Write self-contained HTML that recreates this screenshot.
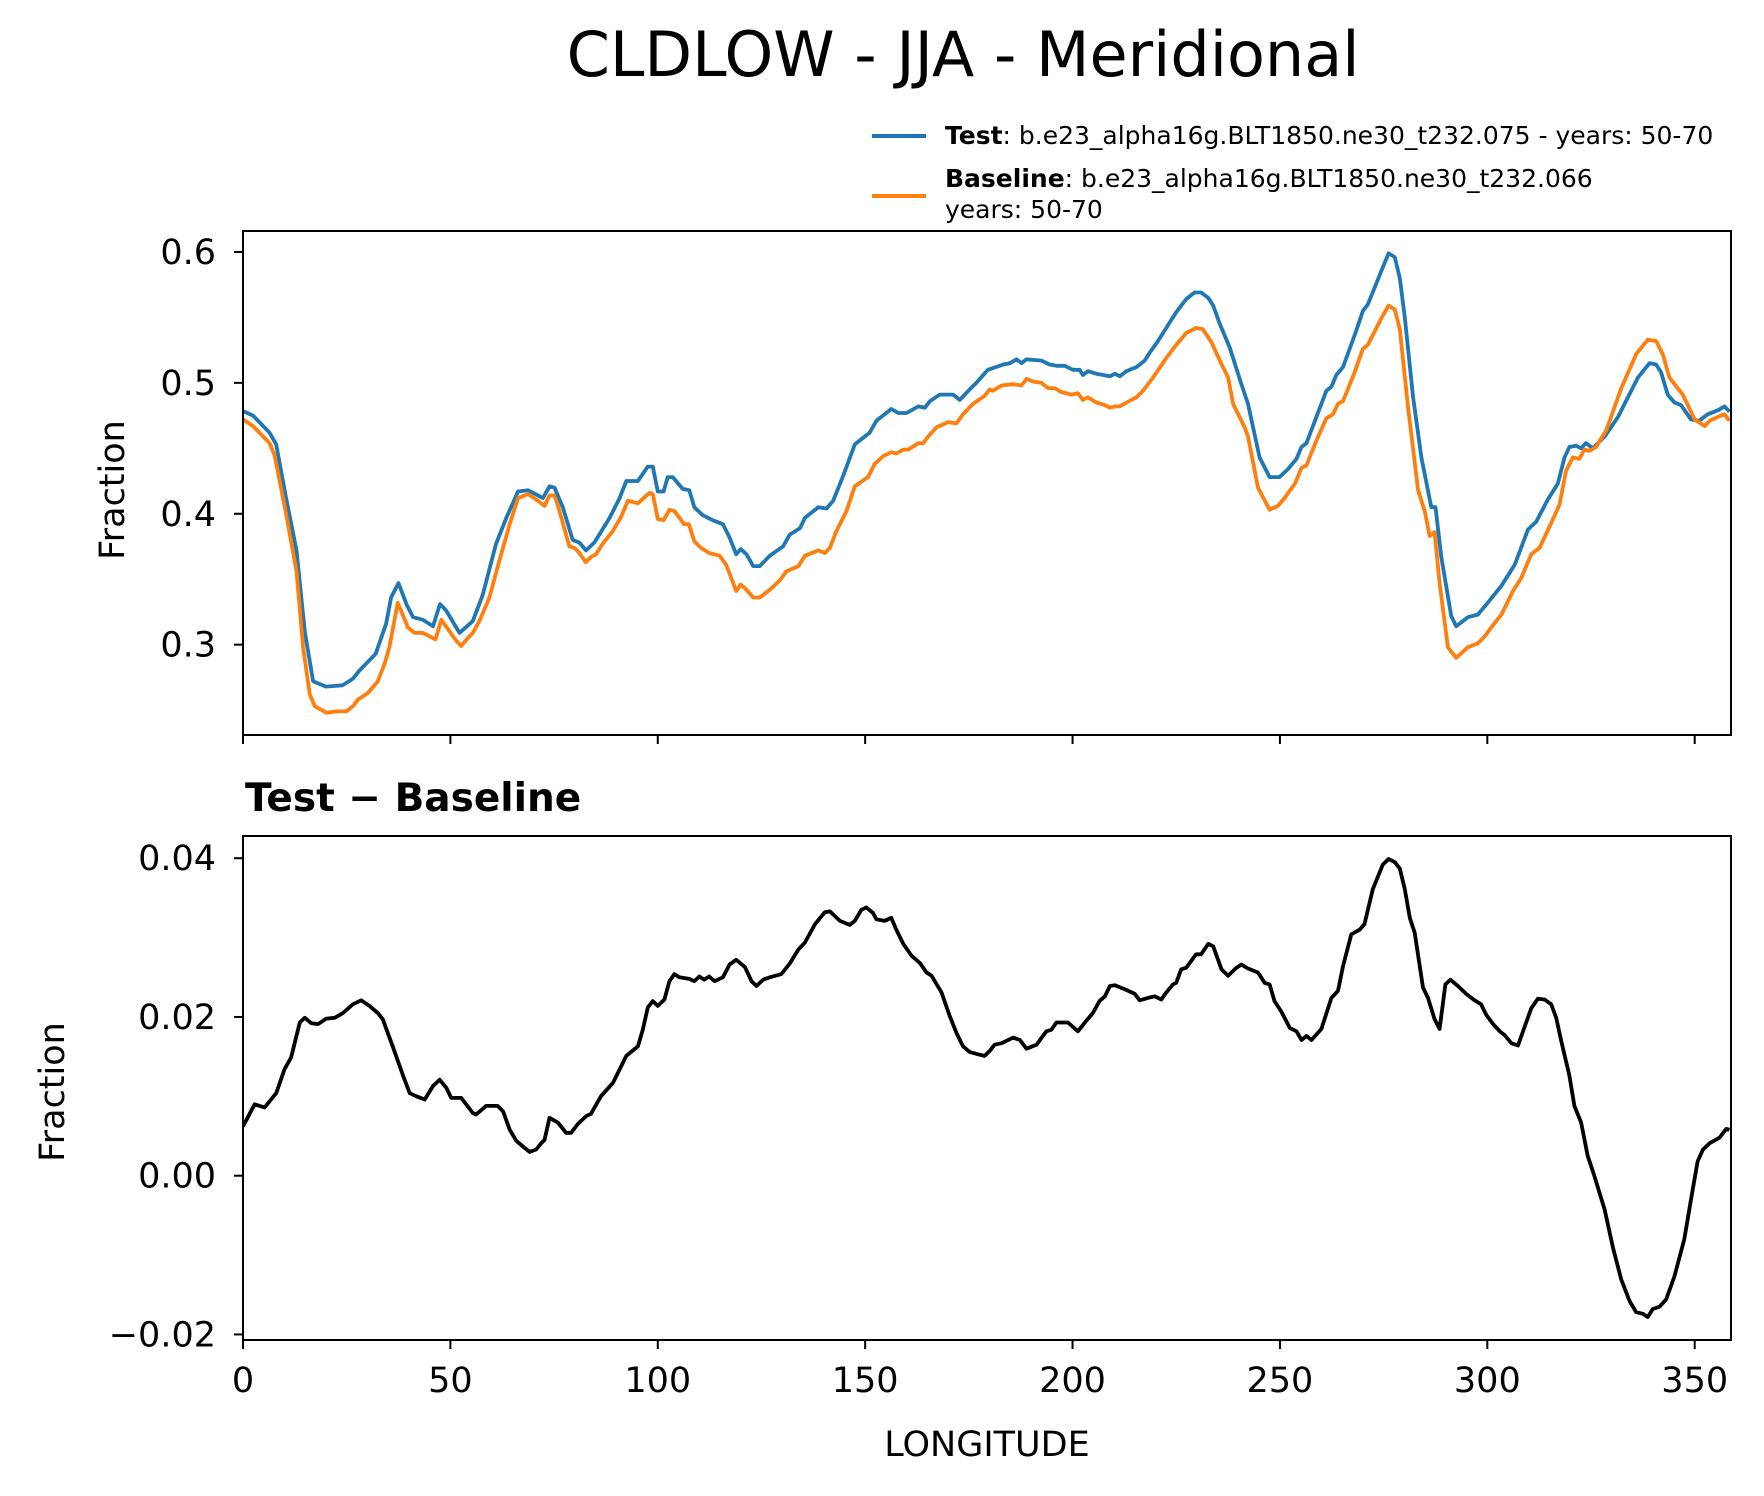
<!DOCTYPE html>
<html><head><meta charset="utf-8">
<style>
html,body{margin:0;padding:0;background:#fff;}
svg{display:block;font-family:"DejaVu Sans","Liberation Sans",sans-serif;}
</style></head>
<body>
<svg id="chart" width="1764" height="1496" viewBox="0 0 1764 1496" xmlns="http://www.w3.org/2000/svg">
<rect width="1764" height="1496" fill="#fff"/>
<text x="963" y="76" font-size="62" text-anchor="middle" fill="#000">CLDLOW - JJA - Meridional</text>
<g>
  <line x1="872" y1="136" x2="926" y2="136" stroke="#1f77b4" stroke-width="4"/>
  <text x="945" y="144" font-size="25" fill="#000"><tspan font-weight="bold">Test</tspan>: b.e23_alpha16g.BLT1850.ne30_t232.075 - years: 50-70</text>
  <line x1="872" y1="196" x2="926" y2="196" stroke="#ff7f0e" stroke-width="4"/>
  <text x="945" y="187" font-size="25" fill="#000"><tspan font-weight="bold">Baseline</tspan>: b.e23_alpha16g.BLT1850.ne30_t232.066</text>
  <text x="945" y="218" font-size="25" fill="#000">years: 50-70</text>
</g>
<g id="top"></g>
<g id="bot"></g>
<text transform="translate(124,490) rotate(-90)" font-size="35" text-anchor="middle">Fraction</text>
<text transform="translate(64,1092) rotate(-90)" font-size="35" text-anchor="middle">Fraction</text>
<text x="245" y="811" font-size="39" font-weight="bold">Test − Baseline</text>
<text x="987" y="1456" font-size="35" text-anchor="middle">LONGITUDE</text>
</svg>
<script>
const lonTest=[0,2.4,6.4,8,10.4,12.9,14.9,16.9,20,24,26.5,28,32,34.5,35.7,37.5,39.4,41,43.4,45.8,47.5,49,52.2,55.4,57.8,61,63.5,66.3,68.7,72.3,73.9,75.1,77.1,79.5,81.1,82.7,84.7,88.4,90.8,92.4,95.2,97.6,98.8,100,101.4,102.4,103.6,106,107.6,108.8,110.8,113.3,115.7,117.3,118.9,120,121.4,123,124.6,127,130.2,131.8,134.3,135.5,138.7,140.7,142.3,144.7,147.5,151.1,152.7,156.3,158,160,162.8,164.4,165.6,168,171.2,172.8,175.2,176.8,179.6,183.3,184.9,186.5,187.7,188.9,192.5,194.5,196.1,198.1,200.1,201.7,202.5,203.7,205.7,209,210.2,211.4,213,215.4,217.4,218.6,220.6,222.6,225,227.4,229.4,231,232.7,233.9,235.5,237.9,240.7,242.3,245.1,247.5,249.9,251.9,254,255.2,256.4,258.8,261.2,262.4,263.6,265.2,268.4,270,271.2,274.4,276.2,277.7,278.9,280.1,282.1,284.1,286.5,287.5,288.9,291.3,292.5,295.3,297.7,300.1,303.4,306.6,309.8,311.8,314.6,317,318.6,319.8,321.4,322.6,323.8,325.4,328.3,331.5,336.3,339.1,340.7,341.9,343.5,345.1,346.7,349.1,351.1,353.1,355.6,357.2,358.4];
const testVals=[0.4785,0.475,0.462,0.453,0.412,0.372,0.310,0.272,0.268,0.269,0.274,0.280,0.293,0.316,0.336,0.347,0.331,0.321,0.319,0.314,0.331,0.326,0.309,0.318,0.338,0.377,0.397,0.417,0.418,0.412,0.421,0.420,0.405,0.380,0.378,0.372,0.378,0.397,0.412,0.425,0.425,0.436,0.436,0.417,0.417,0.428,0.428,0.419,0.418,0.405,0.399,0.395,0.392,0.382,0.369,0.373,0.369,0.360,0.360,0.368,0.375,0.384,0.389,0.397,0.405,0.404,0.410,0.429,0.453,0.462,0.471,0.480,0.477,0.477,0.482,0.481,0.486,0.491,0.491,0.487,0.495,0.500,0.510,0.514,0.515,0.518,0.515,0.518,0.517,0.514,0.513,0.513,0.510,0.510,0.506,0.509,0.507,0.505,0.507,0.505,0.509,0.512,0.517,0.523,0.532,0.542,0.554,0.564,0.569,0.569,0.565,0.559,0.545,0.527,0.499,0.484,0.443,0.428,0.428,0.434,0.442,0.451,0.454,0.474,0.494,0.497,0.506,0.512,0.540,0.555,0.560,0.585,0.599,0.596,0.580,0.550,0.489,0.443,0.405,0.405,0.367,0.322,0.314,0.321,0.323,0.332,0.345,0.361,0.388,0.394,0.411,0.423,0.443,0.451,0.452,0.450,0.454,0.450,0.459,0.474,0.504,0.515,0.514,0.508,0.491,0.485,0.483,0.472,0.471,0.476,0.479,0.482,0.478];
const lonBase=[0,2.4,6.4,7.6,10.4,12.9,14.5,16.1,17.3,20.1,22.5,24.9,26.5,27.7,30.1,32.5,34.1,35.3,37.3,39.8,41.4,43.4,46.4,47.8,49.4,51.4,52.6,54.2,55.4,57,59.4,61.8,64.3,66.3,68.7,71.1,72.7,73.9,75.1,76.3,78.7,79.9,81.1,82.6,83.9,85.1,86.7,89.2,91.2,92.8,95.2,98,98.8,100,101.4,102.8,104,106.4,107.5,108.8,110.4,112.4,114.9,116.5,118.9,120,121.4,123,124.6,127,129.4,131,133.9,135.5,138.7,140.3,141.5,143.1,145.5,147.5,150.7,152.3,154.3,156.3,157.5,159.2,160.4,162.8,164,165.2,167.2,170,172,173.6,176,178.8,180,180.8,182.9,185.7,187.7,188.9,190.5,192.5,194.1,195.7,197.3,199.7,201.3,202.5,203.7,205.7,207.8,209,210.2,211.4,213,215.4,217,219.4,222.6,225,227.4,229.8,231.4,233.5,235.5,237.5,238.7,241.5,242.3,244.7,247.5,249.5,251.1,253.6,255.2,256.4,258.8,261.2,262.8,264,265.2,268,270,271.2,274.4,276.2,277.7,278.9,280.9,283.3,284.9,286.1,287.3,288.5,290.5,292.5,295.3,297.7,299.3,300.9,303.4,306.2,308.2,310.6,312.6,315.4,317.4,319,320.6,322.2,323.4,324.6,326.2,328.7,332.3,335.9,338.7,340.7,342.3,343.9,347.1,350,352.4,353.6,355.6,357.2,358.4];
const baseVals=[0.472,0.467,0.454,0.445,0.400,0.356,0.298,0.262,0.253,0.248,0.249,0.249,0.253,0.258,0.263,0.272,0.285,0.298,0.332,0.313,0.309,0.309,0.304,0.319,0.312,0.303,0.299,0.305,0.309,0.318,0.336,0.364,0.392,0.412,0.415,0.410,0.406,0.414,0.414,0.402,0.375,0.374,0.370,0.363,0.367,0.369,0.377,0.387,0.398,0.410,0.408,0.416,0.415,0.396,0.395,0.403,0.402,0.392,0.392,0.379,0.374,0.370,0.368,0.361,0.341,0.346,0.342,0.336,0.336,0.342,0.349,0.356,0.360,0.368,0.372,0.370,0.374,0.387,0.402,0.421,0.428,0.438,0.444,0.447,0.446,0.449,0.449,0.454,0.454,0.459,0.466,0.470,0.469,0.476,0.484,0.490,0.495,0.494,0.498,0.499,0.498,0.503,0.501,0.500,0.496,0.496,0.493,0.491,0.492,0.487,0.489,0.485,0.483,0.481,0.482,0.482,0.485,0.489,0.494,0.504,0.519,0.529,0.538,0.542,0.541,0.531,0.517,0.504,0.484,0.466,0.459,0.420,0.403,0.406,0.412,0.423,0.435,0.437,0.456,0.473,0.476,0.484,0.486,0.508,0.526,0.529,0.549,0.559,0.556,0.541,0.481,0.418,0.402,0.383,0.386,0.347,0.298,0.290,0.298,0.301,0.306,0.313,0.323,0.341,0.351,0.369,0.374,0.393,0.407,0.433,0.443,0.442,0.449,0.448,0.451,0.464,0.496,0.522,0.533,0.532,0.522,0.504,0.491,0.472,0.467,0.471,0.474,0.476,0.471];
const lonDiff=[0,2.8,5.2,8,10,11.6,13.7,14.9,16.5,18.1,20.1,22.1,24.1,26.5,28.5,30.5,32.5,33.7,36.1,38.6,40.2,41.8,43.8,45.8,47.4,49,50.2,52.6,55.4,56.2,58.6,61.4,62.7,64.3,65.9,67.9,69.1,70.7,71.9,72.7,73.9,75.9,77.9,79.1,80.7,82.7,83.9,86.3,89.2,92.4,95.2,96.4,97.6,98.8,100,101.6,102.8,104,105.2,107.6,108.8,110,111.2,112.4,113.7,115.7,117.3,118.9,121,122.6,123.8,125.4,127,129.8,131.9,133.9,135.5,137.9,140.3,141.5,143.9,146.3,147.5,149.1,150.3,151.9,152.7,154.7,156.3,157.5,159.2,161.2,163.2,164.8,166,168.4,170.4,172,173.6,175.2,177.2,178.8,180,181.2,182.9,185.7,187.3,188.9,191.3,193.7,194.9,196.1,198.9,201.3,203.3,204.9,206.5,207.8,209,210.2,213,215,216.2,218.2,219.8,221.4,222.6,224.2,225,226.2,227.4,229.8,231,232.7,233.9,235.9,237.5,239.5,240.7,242.3,244.7,246.3,247.5,248.7,250.3,252.4,254,255.2,256.4,257.6,260,262.4,264,265.2,267.2,269.2,270.4,272.4,274.8,276.2,277.7,278.9,280.1,281.3,282.5,284.5,285.7,287.3,288.5,289.9,291.1,292.9,294.9,296.9,298.5,299.7,301.4,303,304.2,305.8,307.4,309,310.6,312.2,313.8,315.4,316.6,317.8,319.8,321,322.6,324.2,325.8,328.3,330.3,332.3,334.3,335.9,337.5,338.7,339.9,341.5,343.1,345.1,347.5,349.1,350.7,352,353.6,356,357.6,358.4];
const diffVals=[0.0062,0.0090,0.0086,0.0104,0.0134,0.0149,0.0193,0.0199,0.0192,0.0191,0.0198,0.0199,0.0205,0.0216,0.0221,0.0214,0.0205,0.0197,0.0163,0.0126,0.0104,0.0100,0.0096,0.0113,0.0121,0.0111,0.0098,0.0098,0.0079,0.0077,0.0088,0.0088,0.0081,0.0058,0.0044,0.0035,0.0030,0.0033,0.0041,0.0045,0.0073,0.0067,0.0054,0.0054,0.0065,0.0075,0.0078,0.0100,0.0117,0.0151,0.0163,0.0184,0.0212,0.0220,0.0214,0.0222,0.0245,0.0254,0.0250,0.0248,0.0245,0.0251,0.0247,0.0251,0.0245,0.0250,0.0266,0.0272,0.0263,0.0245,0.0239,0.0247,0.0250,0.0254,0.0268,0.0285,0.0294,0.0317,0.0332,0.0333,0.0321,0.0316,0.0321,0.0335,0.0338,0.0331,0.0323,0.0321,0.0325,0.0310,0.0292,0.0277,0.0268,0.0256,0.0252,0.0231,0.0201,0.0180,0.0163,0.0156,0.0153,0.0151,0.0157,0.0165,0.0167,0.0174,0.0171,0.0160,0.0165,0.0182,0.0184,0.0193,0.0193,0.0182,0.0195,0.0205,0.0220,0.0226,0.0239,0.0240,0.0234,0.0229,0.0221,0.0224,0.0226,0.0222,0.0231,0.0241,0.0243,0.0260,0.0262,0.0279,0.0279,0.0292,0.0289,0.0260,0.0252,0.0262,0.0266,0.0261,0.0256,0.0243,0.0241,0.0220,0.0207,0.0186,0.0182,0.0171,0.0176,0.0171,0.0185,0.0224,0.0233,0.0264,0.0304,0.0310,0.0317,0.0361,0.0392,0.0399,0.0395,0.0387,0.0361,0.0325,0.0306,0.0237,0.0224,0.0197,0.0185,0.0241,0.0247,0.0239,0.0229,0.0221,0.0216,0.0203,0.0191,0.0182,0.0177,0.0167,0.0164,0.0188,0.0211,0.0223,0.0222,0.0216,0.0199,0.0170,0.0126,0.0088,0.0067,0.0025,0.0000,-0.0043,-0.0091,-0.0131,-0.0158,-0.0172,-0.0174,-0.0178,-0.0168,-0.0165,-0.0156,-0.0127,-0.0080,-0.0030,0.0018,0.0033,0.0041,0.0048,0.0059,0.0058];
const xTicks=[0,50,100,150,200,250,300,350];
const topYTicks=[0.3,0.4,0.5,0.6];
const topYLabels=["0.3","0.4","0.5","0.6"];
const botYTicks=[-0.02,0,0.02,0.04];
const botYLabels=["\u22120.02","0.00","0.02","0.04"];

const NS="http://www.w3.org/2000/svg";
const L=243,R=1731,XMIN=0,XMAX=358.75;
const xS=v=>L+(v-XMIN)/(XMAX-XMIN)*(R-L);
function mk(tag,attrs,parent){const e=document.createElementNS(NS,tag);for(const k in attrs)e.setAttribute(k,attrs[k]);parent.appendChild(e);return e;}
function panel(g,top,bot,ymin,ymax,yt,yl,showX,name){
  const yS=v=>bot-(v-ymin)/(ymax-ymin)*(bot-top);
  const clip=mk('clipPath',{id:'clip-'+name},g);
  mk('rect',{x:L,y:top,width:R-L,height:bot-top},clip);
  return {yS,clipId:'clip-'+name,draw(){
    yt.forEach((t,i)=>{
      const tk=mk('line',{x1:L-9,x2:L,y1:yS(t),y2:yS(t),stroke:'#000','stroke-width':2},g);
      
      
      const tl=mk('text',{x:L-27,y:yS(t)+12,'font-size':35,'text-anchor':'end'},g);
      
      
      tl.textContent=yl[i];
    });
    xTicks.forEach(t=>{
      const tk=mk('line',{x1:xS(t),x2:xS(t),y1:bot,y2:bot+9,stroke:'#000','stroke-width':2},g);
      
      
      if(showX){
        const tl=mk('text',{x:xS(t),y:bot+52,'font-size':35,'text-anchor':'middle'},g);
        
        
        tl.textContent=String(t);
      }
    });
  }};
}
function line(g,p,xs,ys,color,name){
  let d='';
  xs.forEach((x,i)=>{d+=(i?'L':'M')+xS(x).toFixed(1)+','+p.yS(ys[i]).toFixed(1);});
  const el=mk('path',{d:d,fill:'none',stroke:color,'stroke-width':3.8,'stroke-linejoin':'round','clip-path':'url(#'+p.clipId+')'},g);
  
  
}
const gt=document.getElementById('top'),gb=document.getElementById('bot');
const pt=panel(gt,231,735,0.2310,0.6160,topYTicks,topYLabels,false,'top');
line(gt,pt,lonTest,testVals,'#1f77b4','test-line');
line(gt,pt,lonBase,baseVals,'#ff7f0e','baseline-line');
pt.draw();
const f1=mk('rect',{x:L,y:231,width:R-L,height:504,fill:'none',stroke:'#000','stroke-width':2},gt);


const pb=panel(gb,836,1340,-0.0207,0.0428,botYTicks,botYLabels,true,'bottom');
line(gb,pb,lonDiff,diffVals,'#000','difference-line');
pb.draw();
const f2=mk('rect',{x:L,y:836,width:R-L,height:504,fill:'none',stroke:'#000','stroke-width':2},gb);


</script>
</body></html>
